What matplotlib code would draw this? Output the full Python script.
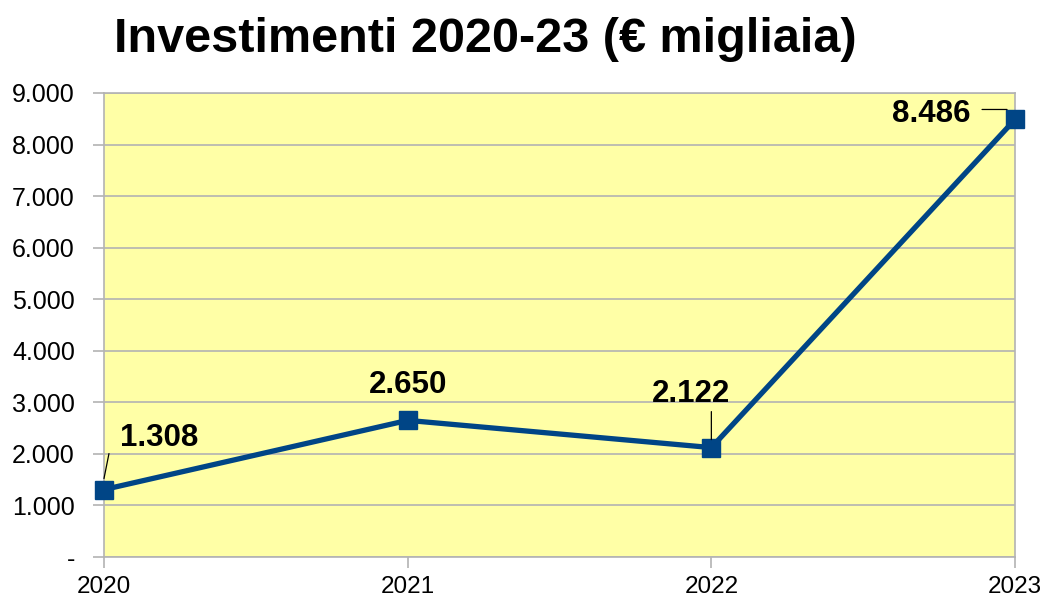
import matplotlib.pyplot as plt
from matplotlib.ticker import FuncFormatter
from matplotlib.transforms import offset_copy

plt.rcParams['font.family'] = ['Liberation Sans', 'DejaVu Sans']

years = [2020, 2021, 2022, 2023]
investimenti = [1308, 2650, 2122, 8486]
labels = ['1.308', '2.650', '2.122', '8.486']

fig = plt.figure(figsize=(10.46, 6.01), dpi=100)
ax = fig.add_axes([0.0994, 0.0732, 0.8710, 0.7721])
ax.set_facecolor('#ffffa6')

ax.plot(years, investimenti, color='#004586', lw=3.8, marker='s', ms=13,
        solid_joinstyle='miter', zorder=3, clip_on=False)

ax.set_xlim(2020, 2023)
ax.set_ylim(0, 9000)
ax.set_yticks(range(0, 9001, 1000))
ax.set_xticks(years)
ax.yaxis.set_major_formatter(FuncFormatter(
    lambda v, p: '-' if v == 0 else f'{int(v):,}'.replace(',', '.')))
ax.grid(axis='y', color='#b3b3b3', lw=1.2)
ax.set_axisbelow(True)
for s in ax.spines.values():
    s.set_color('#b3b3b3')
    s.set_linewidth(1.2)
ax.tick_params(axis='both', colors='#b3b3b3', labelcolor='black',
               labelsize=18, length=8, width=1.2)
ax.tick_params(axis='x', pad=6, labelsize=17.5)
ax.tick_params(axis='y', pad=13)

# etichette dei valori: offset del testo e linee guida (in pixel)
text_off = [(55, 52), (0, 35), (-20, 54), (-84, 5)]
leaders = [((5, 36), (0, 11)), None, ((0, 36), (0, 8)), ((-33, 10), (-8, 10))]
for x, y, t, off, ld in zip(years, investimenti, labels, text_off, leaders):
    ax.annotate(t, (x, y), xytext=off, textcoords='offset pixels',
                ha='center', va='center', fontsize=22.5, fontweight='bold',
                annotation_clip=False)
    if ld:
        (sx, sy), (ex, ey) = ld
        tr = offset_copy(ax.transData, fig=fig, x=ex, y=ey, units='dots')
        ax.annotate('', (x, y), xycoords=tr, xytext=(sx - ex, sy - ey),
                    textcoords='offset pixels', annotation_clip=False,
                    arrowprops=dict(arrowstyle='-', color='black', lw=0.9,
                                    shrinkA=0, shrinkB=0))

fig.text(0.4637, 0.9135, 'Investimenti 2020-23 (€ migliaia)', ha='center',
         va='baseline', fontsize=35, fontweight='bold')

fig.savefig('out.png', dpi=100)
